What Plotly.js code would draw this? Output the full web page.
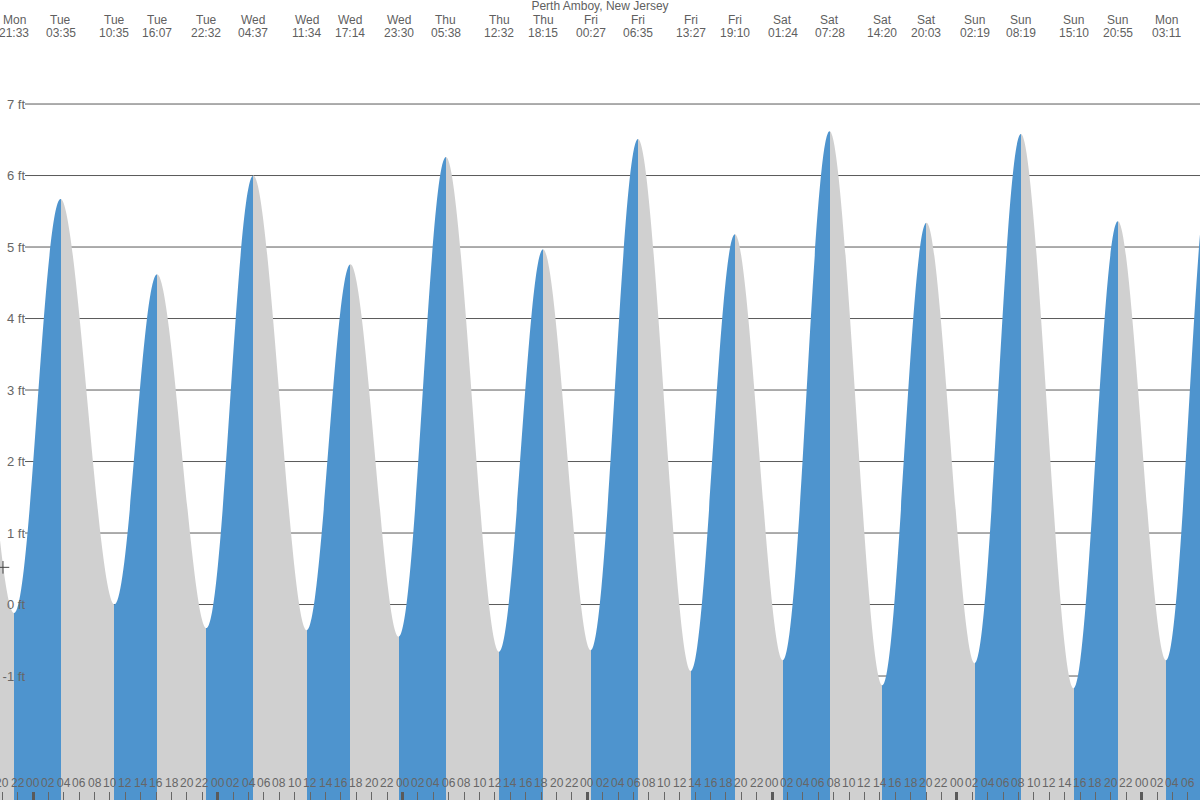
<!DOCTYPE html>
<html>
<head>
<meta charset="utf-8">
<script src="https://cdn.plot.ly/plotly-3.0.1.min.js"></script>
<style>
html,body{margin:0;padding:0;background:#fff;}
#chart{width:1200px;height:800px;}
</style>
</head>
<body>
<div id="chart"></div>
<script>
// ---- data ----
const chartTitle = 'Perth Amboy, New Jersey';
// high / low tide events (the first two and last two lie just outside the visible window)
const tideDays = ['Mon','Mon','Mon','Tue','Tue','Tue','Tue','Wed','Wed','Wed','Wed','Thu','Thu','Thu',
                  'Fri','Fri','Fri','Fri','Sat','Sat','Sat','Sat','Sun','Sun','Sun','Sun','Mon','Mon','Mon'];
const tideTimes = ['09:20','15:25','21:33','03:35','10:35','16:07','22:32','04:37','11:34','17:14','23:30','05:38','12:32','18:15',
                   '00:27','06:35','13:27','19:10','01:24','07:28','14:20','20:03','02:19','08:19','15:10','20:55','03:11','09:04','15:50'];
const tideHeights = [-0.2,4.4,-0.12,5.67,0.0,4.62,-0.33,6.0,-0.36,4.76,-0.45,6.26,-0.66,4.97,
                     -0.64,6.51,-0.93,5.18,-0.78,6.62,-1.13,5.34,-0.82,6.58,-1.17,5.36,-0.78,6.25,-0.95];
const yTickVals = [-1,0,1,2,3,4,5,6,7];
const yTickText = ['-1 ft','0 ft','1 ft','2 ft','3 ft','4 ft','5 ft','6 ft','7 ft'];
// current-time marker
const nowMarker = {time:'20:06', height:0.52};
// visible window (hours relative to Tuesday 00:00)
const viewStart = -4.286, viewEnd = 151.58;
const yBottom = -2.734, yTop = 8.455;

// ---- styles ----
const BLUE = '#4e94ce', GRAY = '#d0d0d0';
const TXT = '#5f5f5f';
const SANS = 'Liberation Sans, Arial, sans-serif';

// ---- derived ----
function toHours(t){const p=t.split(':');return +p[0]+(+p[1])/60;}
const tideHours = [];
let dayOff = -1;
for(let i=0;i<tideDays.length;i++){
  if(i>0 && tideDays[i]!==tideDays[i-1]) dayOff++;
  tideHours.push(dayOff*24 + toHours(tideTimes[i]));
}
const x0 = tideHours[0], xN = tideHours[tideHours.length-1];
const cs = [];
for(let k=0;k<tideHours.length-1;k++){
  const c = tideHeights[k+1] > tideHeights[k] ? BLUE : GRAY;
  cs.push([(tideHours[k]-x0)/(xN-x0), c]);
  cs.push([(tideHours[k+1]-x0)/(xN-x0), c]);
}
cs[0][0]=0; cs[cs.length-1][0]=1;

const hourTicks = [], hourText = [], midnightTicks = [];
for(let h=-4; h<=152; h+=2){
  hourTicks.push(h);
  hourText.push(String(((h%24)+24)%24).padStart(2,'0'));
  if(((h%24)+24)%24===0) midnightTicks.push(h);
}

const traces = [
  {x:[x0,xN], y:[yBottom-1,yBottom-1], mode:'lines', line:{width:0}, hoverinfo:'skip', showlegend:false},
  {x:tideHours, y:tideHeights, mode:'lines', line:{shape:'spline', smoothing:1, width:0},
   fill:'tonexty', fillgradient:{type:'horizontal', start:x0, stop:xN, colorscale:cs},
   hoverinfo:'skip', showlegend:false},
  {x:[-24+toHours(nowMarker.time)], y:[nowMarker.height], mode:'markers',
   marker:{symbol:'cross-thin', size:9, line:{color:'#444', width:1}, color:'#444'}, hoverinfo:'skip', showlegend:false},
  {x:[], y:[], xaxis:'x2', yaxis:'y', showlegend:false},
  {x:[], y:[], xaxis:'x', yaxis:'y2', showlegend:false}
];

const annotations = [];
const rowText = {showarrow:false, borderpad:0, yref:'paper', yanchor:'middle', xanchor:'center', xref:'x'};
tideHours.forEach((h,i)=>{
  annotations.push(Object.assign({x:h, y:1-19.6/800, text:tideDays[i], font:{family:SANS, size:12, color:TXT}}, rowText));
  annotations.push(Object.assign({x:h, y:1-33.4/800, text:tideTimes[i], font:{family:SANS, size:12, color:TXT}}, rowText));
});
hourTicks.forEach((h,i)=>{
  annotations.push(Object.assign({x:h, y:17/800, text:hourText[i], font:{family:SANS, size:12, color:'#666'}}, rowText));
});

const baseX = {range:[viewStart, viewEnd], autorange:false, showgrid:false, zeroline:false, showline:false, fixedrange:true};
const layout = {
  width:1200, height:800,
  margin:{l:0, r:0, t:0, b:0},
  paper_bgcolor:'#fff', plot_bgcolor:'#fff',
  showlegend:false,
  title:{text:chartTitle, font:{family:SANS, size:12, color:TXT},
         x:0.5, xanchor:'center', xref:'paper', yref:'container', y:1-6/800, yanchor:'middle'},
  xaxis: Object.assign({}, baseX, {tickmode:'array', tickvals:hourTicks, ticks:'inside', ticklen:8, tickwidth:1,
         tickcolor:'#666', showticklabels:false}),
  xaxis2: Object.assign({}, baseX, {overlaying:'x', anchor:'y', side:'bottom', tickmode:'array', tickvals:midnightTicks,
         ticks:'inside', ticklen:8, tickwidth:3, tickcolor:'#5a5a5a', showticklabels:false}),
  yaxis: {range:[yBottom, yTop], autorange:false, showgrid:false, zeroline:false, showticklabels:false, fixedrange:true},
  yaxis2: {range:[yBottom, yTop], autorange:false, overlaying:'y', anchor:'free', position:25/1200, side:'left',
         showgrid:false, zeroline:false, tickmode:'array', tickvals:yTickVals, ticktext:yTickText, ticks:'',
         tickfont:{family:SANS, size:13, color:'#666'}, fixedrange:true},
  annotations: annotations,
  shapes: yTickVals.map(v=>({type:'line', xref:'paper', x0:25/1200, x1:1, yref:'y', y0:v, y1:v,
         line:{color:'#5a5a5a', width:1}, layer:'below'}))
};

Plotly.newPlot('chart', traces, layout, {staticPlot:true, displayModeBar:false});
</script>
</body>
</html>
